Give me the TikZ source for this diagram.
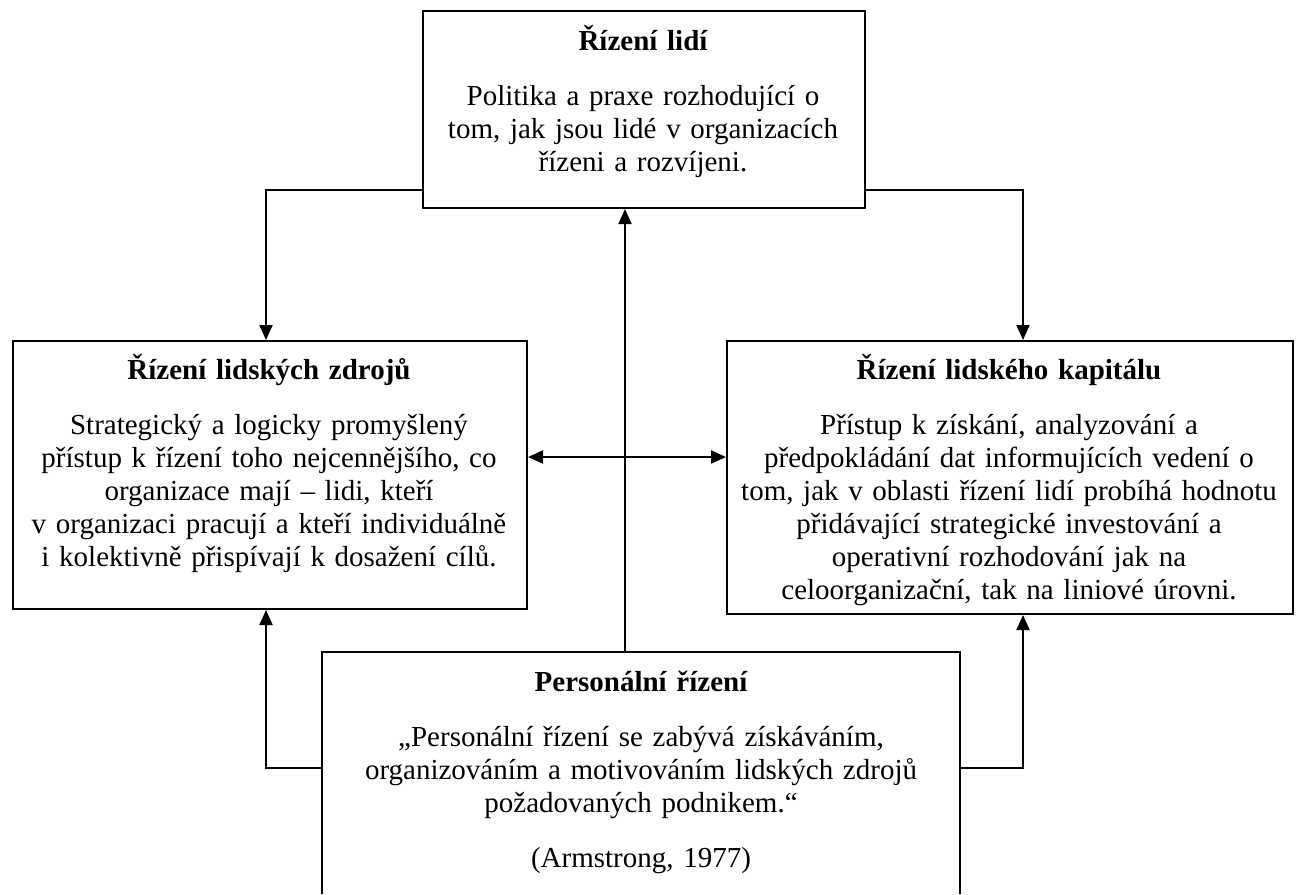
\documentclass[tikz,border=0pt]{standalone}
\usepackage{fontspec}
\setmainfont{Liberation Serif}
\usetikzlibrary{arrows.meta}
\tikzset{
  box/.style={draw, line width=2pt, minimum width=#1, anchor=north west, inner sep=0pt},
  openbox/.style={draw=none, minimum width=#1, anchor=north west, inner sep=0pt},
  txt/.style={anchor=base, align=center, text width=#1, inner sep=0pt,
    font=\fontsize{29}{33}\selectfont},
  conn/.style={line width=2pt, -{Triangle[length=15pt,width=13pt]}},
  dconn/.style={line width=2pt, {Triangle[length=15pt,width=13pt]}-{Triangle[length=15pt,width=13pt]}},
}
\begin{document}
\begin{tikzpicture}[x=1pt,y=-1pt]
\useasboundingbox (0,0) rectangle (1298,894);
% boxes
\node[box=442pt, minimum height=197pt] (top) at (422,10) {};
\node[box=514pt, minimum height=268pt] (hrm) at (12,340) {};
\node[box=566pt, minimum height=273pt] (hcm) at (726,340) {};
\node[openbox=638pt, minimum height=242pt] (pr) at (322,652) {};
\draw[line width=2pt] (pr.south west) -- (pr.north west) -- (pr.north east) -- (pr.south east);
% texts
\node[txt=520pt] (ttop) at (643,50) {{\bfseries Řízení lidí}\\[22pt]
Politika a praxe rozhodující o\\
tom, jak jsou lidé v organizacích\\
řízeni a rozvíjeni.};
\node[txt=600pt] (thrm) at (269,379) {{\bfseries Řízení lidských zdrojů}\\[22pt]
Strategický a logicky promyšlený\\
přístup k řízení toho nejcennějšího, co\\
organizace mají – lidi, kteří\\
v organizaci pracují a kteří individuálně\\
i kolektivně přispívají k dosažení cílů.};
\node[txt=640pt] (thcm) at (1009,379) {{\bfseries Řízení lidského kapitálu}\\[22pt]
Přístup k získání, analyzování a\\
předpokládání dat informujících vedení o\\
tom, jak v oblasti řízení lidí probíhá hodnotu\\
přidávající strategické investování a\\
operativní rozhodování jak na\\
celoorganizační, tak na liniové úrovni.};
\node[txt=700pt] (tpr) at (641,691) {{\bfseries Personální řízení}\\[22pt]
„Personální řízení se zabývá získáváním,\\
organizováním a motivováním lidských zdrojů\\
požadovaných podnikem.“\\[22pt]
(Armstrong, 1977)};
% connectors
\coordinate (vx) at (625,0);
\coordinate (mid) at (0,457);
\draw[conn] ([yshift=19pt]top.south west) -| ([xshift=-4pt]hrm.north);
\draw[conn] ([yshift=19pt]top.south east) -| ([xshift=13pt]hcm.north);
\draw[conn] ([yshift=-116pt]pr.north west) -| ([xshift=-4pt]hrm.south);
\draw[conn] ([yshift=-116pt]pr.north east) -| ([xshift=13pt]hcm.south);
\draw[conn] (pr.north -| vx) -- (top.south -| vx);
\draw[dconn] (hrm.east |- mid) -- (hcm.west |- mid);
\end{tikzpicture}
\end{document}
